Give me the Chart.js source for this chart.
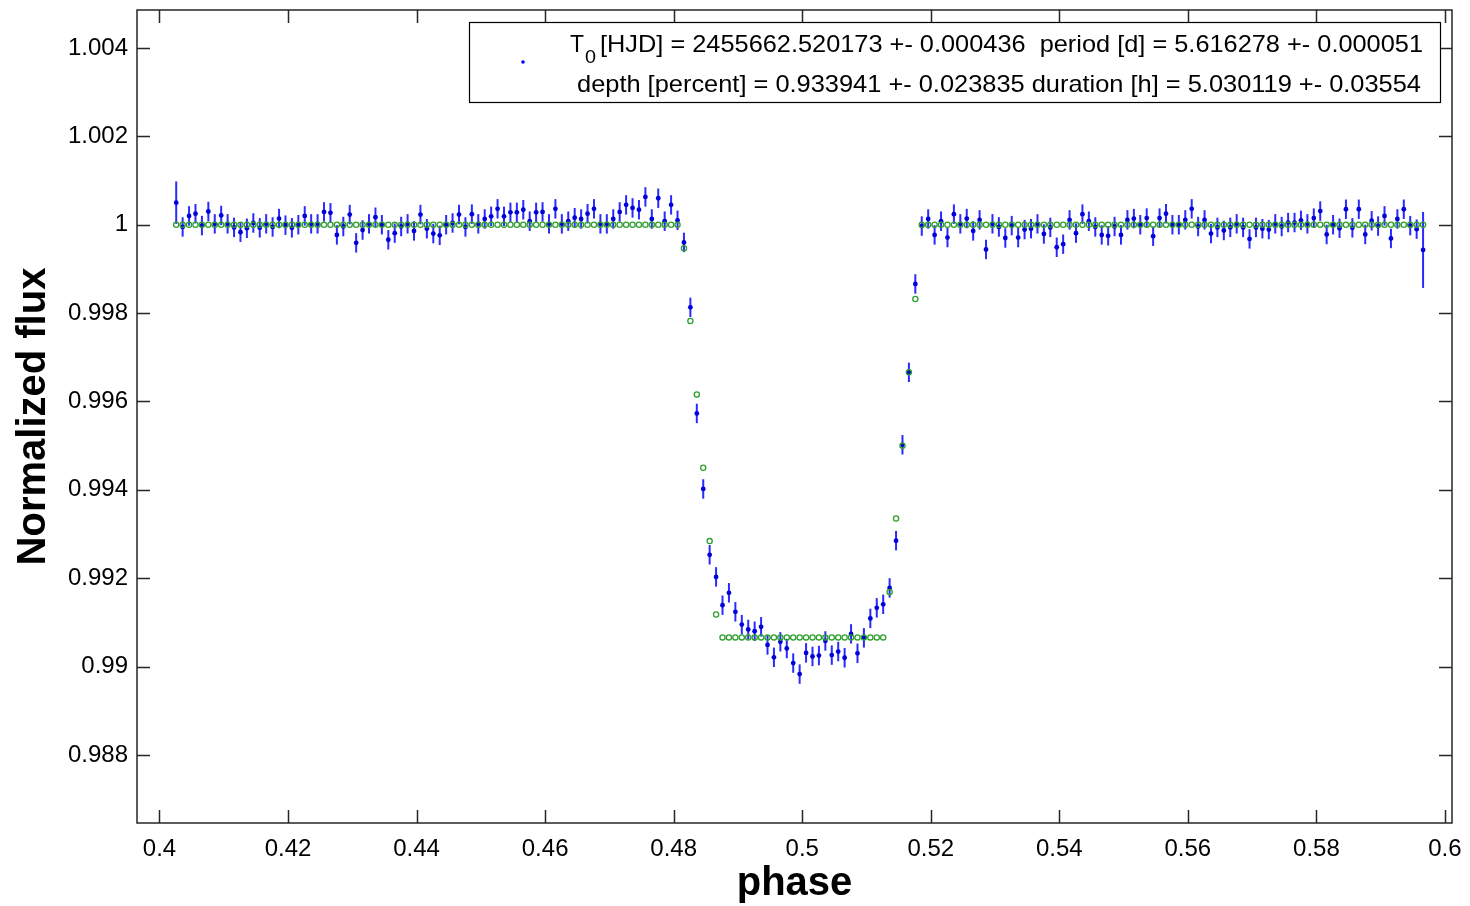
<!DOCTYPE html>
<html>
<head>
<meta charset="utf-8">
<script src="https://cdn.jsdelivr.net/npm/chart.js@4/dist/chart.umd.min.js"></script>
<style>
  html, body { margin: 0; padding: 0; background: #fff; }
  #wrap { width: 1470px; height: 906px; }
</style>
</head>
<body>
<div id="wrap"><canvas id="lc"></canvas></div>
<script>
// binned phase centres
const phase = [
  0.4026, 0.4036, 0.4046, 0.4056, 0.4066, 0.4076, 0.4086, 0.4096, 0.4106, 0.4116,
  0.4126, 0.4136, 0.4146, 0.4156, 0.4166, 0.4176, 0.4186, 0.4196, 0.4206, 0.4216,
  0.4226, 0.4236, 0.4246, 0.4256, 0.4266, 0.4276, 0.4286, 0.4296, 0.4306, 0.4316,
  0.4326, 0.4336, 0.4346, 0.4356, 0.4366, 0.4376, 0.4386, 0.4396, 0.4406, 0.4416,
  0.4426, 0.4436, 0.4446, 0.4456, 0.4466, 0.4476, 0.4486, 0.4496, 0.4506, 0.4516,
  0.4526, 0.4536, 0.4546, 0.4556, 0.4566, 0.4576, 0.4586, 0.4596, 0.4606, 0.4616,
  0.4626, 0.4636, 0.4646, 0.4656, 0.4666, 0.4676, 0.4686, 0.4696, 0.4706, 0.4716,
  0.4726, 0.4736, 0.4746, 0.4756, 0.4766, 0.4776, 0.4786, 0.4796, 0.4806, 0.4816,
  0.4826, 0.4836, 0.4846, 0.4856, 0.4866, 0.4876, 0.4886, 0.4896, 0.4906, 0.4916,
  0.4926, 0.4936, 0.4946, 0.4956, 0.4966, 0.4976, 0.4986, 0.4996, 0.5006, 0.5016,
  0.5026, 0.5036, 0.5046, 0.5056, 0.5066, 0.5076, 0.5086, 0.5096, 0.5106, 0.5116,
  0.5126, 0.5136, 0.5146, 0.5156, 0.5166, 0.5176, 0.5186, 0.5196, 0.5206, 0.5216,
  0.5226, 0.5236, 0.5246, 0.5256, 0.5266, 0.5276, 0.5286, 0.5296, 0.5306, 0.5316,
  0.5326, 0.5336, 0.5346, 0.5356, 0.5366, 0.5376, 0.5386, 0.5396, 0.5406, 0.5416,
  0.5426, 0.5436, 0.5446, 0.5456, 0.5466, 0.5476, 0.5486, 0.5496, 0.5506, 0.5516,
  0.5526, 0.5536, 0.5546, 0.5556, 0.5566, 0.5576, 0.5586, 0.5596, 0.5606, 0.5616,
  0.5626, 0.5636, 0.5646, 0.5656, 0.5666, 0.5676, 0.5686, 0.5696, 0.5706, 0.5716,
  0.5726, 0.5736, 0.5746, 0.5756, 0.5766, 0.5776, 0.5786, 0.5796, 0.5806, 0.5816,
  0.5826, 0.5836, 0.5846, 0.5856, 0.5866, 0.5876, 0.5886, 0.5896, 0.5906, 0.5916,
  0.5926, 0.5936, 0.5946, 0.5956, 0.5966
];

// binned normalized flux (blue points)
const flux = [
  1.00050, 0.99995, 1.00020, 1.00025, 0.99998, 1.00030, 1.00002, 1.00021, 1.00002, 0.99994,
  0.99983, 0.99992, 1.00004, 0.99993, 1.00002, 0.99995, 1.00014, 0.99999, 0.99993, 1.00000,
  1.00020, 1.00002, 1.00002, 1.00029, 1.00027, 0.99977, 0.99996, 1.00023, 0.99959, 0.99988,
  1.00002, 1.00017, 1.00000, 0.99966, 0.99981, 0.99996, 1.00002, 0.99986, 1.00023, 0.99991,
  0.99980, 0.99976, 1.00000, 1.00004, 1.00023, 0.99995, 1.00024, 1.00002, 1.00013, 1.00019,
  1.00036, 1.00019, 1.00028, 1.00028, 1.00034, 1.00008, 1.00028, 1.00029, 1.00002, 1.00036,
  1.00002, 1.00008, 1.00016, 1.00013, 1.00025, 1.00036, 1.00002, 1.00002, 1.00013, 1.00029,
  1.00045, 1.00038, 1.00034, 1.00063, 1.00013, 1.00060, 1.00008, 1.00045, 1.00010, 0.99960,
  0.99813, 0.99573, 0.99402, 0.99253, 0.99203, 0.99139, 0.99167, 0.99124, 0.99095, 0.99084,
  0.99080, 0.99090, 0.99049, 0.99021, 0.99056, 0.99041, 0.99008, 0.98983, 0.99031, 0.99023,
  0.99025, 0.99058, 0.99026, 0.99034, 0.99020, 0.99074, 0.99030, 0.99065, 0.99109, 0.99133,
  0.99141, 0.99178, 0.99285, 0.99502, 0.99666, 0.99866, 0.99997, 1.00013, 0.99977, 1.00008,
  0.99971, 1.00024, 1.00002, 1.00014, 0.99986, 1.00011, 0.99944, 1.00002, 0.99995, 0.99970,
  0.99998, 0.99971, 0.99989, 0.99991, 1.00002, 0.99979, 0.99994, 0.99949, 0.99956, 1.00011,
  0.99981, 1.00024, 1.00008, 0.99995, 0.99977, 0.99975, 0.99996, 0.99977, 1.00011, 1.00014,
  1.00000, 1.00015, 0.99974, 1.00015, 1.00025, 1.00000, 1.00000, 1.00011, 1.00036, 0.99996,
  1.00011, 0.99980, 0.99994, 0.99987, 0.99994, 1.00002, 0.99994, 0.99968, 0.99994, 0.99991,
  0.99989, 1.00002, 0.99996, 1.00005, 1.00005, 1.00010, 1.00002, 1.00015, 1.00031, 0.99978,
  1.00000, 0.99992, 1.00035, 0.99993, 1.00035, 0.99978, 1.00009, 0.99997, 1.00020, 0.99969,
  1.00013, 1.00035, 0.99998, 0.99990, 0.99943
];

// 1-sigma error of each bin
const fluxErr = [
  0.00048, 0.00022, 0.00022, 0.00022, 0.00022, 0.00022, 0.00022, 0.00022, 0.00022, 0.00022,
  0.00022, 0.00022, 0.00022, 0.00022, 0.00022, 0.00022, 0.00022, 0.00022, 0.00022, 0.00022,
  0.00022, 0.00022, 0.00022, 0.00022, 0.00022, 0.00022, 0.00022, 0.00022, 0.00022, 0.00022,
  0.00022, 0.00022, 0.00022, 0.00022, 0.00022, 0.00022, 0.00022, 0.00022, 0.00022, 0.00022,
  0.00022, 0.00022, 0.00022, 0.00022, 0.00022, 0.00022, 0.00022, 0.00022, 0.00022, 0.00022,
  0.00022, 0.00022, 0.00022, 0.00022, 0.00022, 0.00022, 0.00022, 0.00022, 0.00022, 0.00022,
  0.00022, 0.00022, 0.00022, 0.00022, 0.00022, 0.00022, 0.00022, 0.00022, 0.00022, 0.00022,
  0.00022, 0.00022, 0.00022, 0.00022, 0.00022, 0.00022, 0.00022, 0.00022, 0.00022, 0.00022,
  0.00022, 0.00022, 0.00022, 0.00022, 0.00022, 0.00022, 0.00022, 0.00022, 0.00022, 0.00022,
  0.00022, 0.00022, 0.00022, 0.00022, 0.00022, 0.00022, 0.00022, 0.00022, 0.00022, 0.00022,
  0.00022, 0.00022, 0.00022, 0.00022, 0.00022, 0.00022, 0.00022, 0.00022, 0.00022, 0.00022,
  0.00022, 0.00022, 0.00022, 0.00022, 0.00022, 0.00022, 0.00022, 0.00022, 0.00022, 0.00022,
  0.00022, 0.00022, 0.00022, 0.00022, 0.00022, 0.00022, 0.00022, 0.00022, 0.00022, 0.00022,
  0.00022, 0.00022, 0.00022, 0.00022, 0.00022, 0.00022, 0.00022, 0.00022, 0.00022, 0.00022,
  0.00022, 0.00022, 0.00022, 0.00022, 0.00022, 0.00022, 0.00022, 0.00022, 0.00022, 0.00022,
  0.00022, 0.00022, 0.00022, 0.00022, 0.00022, 0.00022, 0.00022, 0.00022, 0.00022, 0.00022,
  0.00022, 0.00022, 0.00022, 0.00022, 0.00022, 0.00022, 0.00022, 0.00022, 0.00022, 0.00022,
  0.00022, 0.00022, 0.00022, 0.00022, 0.00022, 0.00022, 0.00022, 0.00022, 0.00022, 0.00022,
  0.00022, 0.00022, 0.00022, 0.00022, 0.00022, 0.00022, 0.00022, 0.00022, 0.00022, 0.00022,
  0.00022, 0.00022, 0.00022, 0.00022, 0.00086
];

// transit model (green circles)
const model = [
  1, 1, 1, 1, 1, 1, 1, 1, 1, 1,
  1, 1, 1, 1, 1, 1, 1, 1, 1, 1,
  1, 1, 1, 1, 1, 1, 1, 1, 1, 1,
  1, 1, 1, 1, 1, 1, 1, 1, 1, 1,
  1, 1, 1, 1, 1, 1, 1, 1, 1, 1,
  1, 1, 1, 1, 1, 1, 1, 1, 1, 1,
  1, 1, 1, 1, 1, 1, 1, 1, 1, 1,
  1, 1, 1, 1, 1, 1, 1, 1, 1, 0.99947,
  0.99782, 0.99616, 0.99450, 0.99284, 0.99118, 0.99066, 0.99066, 0.99066, 0.99066, 0.99066,
  0.99066, 0.99066, 0.99066, 0.99066, 0.99066, 0.99066, 0.99066, 0.99066, 0.99066, 0.99066,
  0.99066, 0.99066, 0.99066, 0.99066, 0.99066, 0.99066, 0.99066, 0.99066, 0.99066, 0.99066,
  0.99066, 0.99169, 0.99335, 0.99500, 0.99666, 0.99832, 1, 1, 1, 1,
  1, 1, 1, 1, 1, 1, 1, 1, 1, 1,
  1, 1, 1, 1, 1, 1, 1, 1, 1, 1,
  1, 1, 1, 1, 1, 1, 1, 1, 1, 1,
  1, 1, 1, 1, 1, 1, 1, 1, 1, 1,
  1, 1, 1, 1, 1, 1, 1, 1, 1, 1,
  1, 1, 1, 1, 1, 1, 1, 1, 1, 1,
  1, 1, 1, 1, 1, 1, 1, 1, 1, 1,
  1, 1, 1, 1, 1
];

const legendLine1 = ['T', '0', '[HJD] = 2455662.520173 +- 0.000436  period [d] = 5.616278 +- 0.000051'];
const legendLine2 = 'depth [percent] = 0.933941 +- 0.023835 duration [h] = 5.030119 +- 0.03554';

const FONT = '"Liberation Sans", Arial, Helvetica, sans-serif';
const TICK_LEN = 13;

Chart.defaults.color = '#000';
Chart.defaults.font.family = FONT;

function fitText(ctx, text, x0, x1, y) {
  const w = ctx.measureText(text).width;
  ctx.save();
  ctx.translate(x0, y);
  ctx.scale((x1 - x0) / w, 1);
  ctx.fillText(text, 0, 0);
  ctx.restore();
}

const framePlugin = {
  id: 'frame',
  beforeDatasetsDraw(chart) {
    // error bars under the markers
    const { ctx, chartArea, scales } = chart;
    ctx.save();
    ctx.beginPath();
    ctx.rect(chartArea.left, chartArea.top, chartArea.right - chartArea.left, chartArea.bottom - chartArea.top);
    ctx.clip();
    ctx.strokeStyle = '#2a2aff';
    ctx.lineWidth = 2;
    phase.forEach((p, i) => {
      const x = scales.x.getPixelForValue(p);
      const y0 = scales.y.getPixelForValue(flux[i] - fluxErr[i]);
      const y1 = scales.y.getPixelForValue(flux[i] + fluxErr[i]);
      ctx.beginPath();
      ctx.moveTo(x, y0);
      ctx.lineTo(x, y1);
      ctx.stroke();
    });
    ctx.restore();
  },
  afterDraw(chart) {
    const { ctx, chartArea: a, scales } = chart;
    ctx.save();
    ctx.strokeStyle = '#262626';
    ctx.lineWidth = 1.5;
    ctx.strokeRect(a.left, a.top, a.right - a.left, a.bottom - a.top);

    ctx.beginPath();
    scales.x.ticks.forEach((t) => {
      const x = Math.round(scales.x.getPixelForValue(t.value)) + 0.5;
      ctx.moveTo(x, a.bottom); ctx.lineTo(x, a.bottom - TICK_LEN);
      ctx.moveTo(x, a.top); ctx.lineTo(x, a.top + TICK_LEN);
    });
    scales.y.ticks.forEach((t) => {
      const y = Math.round(scales.y.getPixelForValue(t.value)) + 0.5;
      ctx.moveTo(a.left, y); ctx.lineTo(a.left + TICK_LEN, y);
      ctx.moveTo(a.right, y); ctx.lineTo(a.right - TICK_LEN, y);
    });
    ctx.stroke();

    // legend box
    const bx = 469, by = 22, bw = 971, bh = 80;
    ctx.fillStyle = '#fff';
    ctx.fillRect(bx, by, bw, bh);
    ctx.lineWidth = 1.2;
    ctx.strokeStyle = '#000';
    ctx.strokeRect(bx + 0.5, by + 0.5, bw, bh);

    ctx.fillStyle = '#0000ff';
    ctx.beginPath();
    ctx.arc(523, 62, 1.8, 0, Math.PI * 2);
    ctx.fill();

    ctx.fillStyle = '#000';
    ctx.textBaseline = 'alphabetic';
    ctx.font = '24px ' + FONT;
    fitText(ctx, legendLine1[0], 570, 584, 52);
    ctx.font = '18px ' + FONT;
    fitText(ctx, legendLine1[1], 585, 596, 63);
    ctx.font = '24px ' + FONT;
    fitText(ctx, legendLine1[2], 600, 1423, 52);
    fitText(ctx, legendLine2, 577, 1421, 92);
    ctx.restore();
  }
};

const ctx = document.getElementById('lc');

new Chart(ctx, {
  type: 'scatter',
  data: {
    datasets: [
      {
        label: 'model',
        data: phase.map((p, i) => ({ x: p, y: model[i] })),
        pointStyle: 'circle',
        pointRadius: 2.6,
        pointBorderWidth: 1.3,
        pointBackgroundColor: 'rgba(0,0,0,0)',
        pointBorderColor: '#2f9f2f',
        showLine: false,
        order: 0,
      },
      {
        label: 'data',
        data: phase.map((p, i) => ({ x: p, y: flux[i] })),
        pointStyle: 'circle',
        pointRadius: 2.4,
        pointBorderWidth: 0,
        pointBackgroundColor: '#0000d8',
        showLine: false,
        order: 1,
      },
    ],
  },
  options: {
    responsive: true,
    maintainAspectRatio: false,
    animation: false,
    events: [],
    layout: { padding: { top: 10, right: 18, left: 0, bottom: 0 } },
    plugins: {
      legend: { display: false },
      tooltip: { enabled: false },
    },
    scales: {
      x: {
        type: 'linear',
        min: 0.3965,
        max: 0.6011,
        afterFit: (scale) => {
          scale.height = 83;
          scale.paddingLeft = 0;
          scale.paddingRight = 0;
        },
        grid: { display: false, drawTicks: false },
        border: { display: false },
        ticks: {
          stepSize: 0.02,
          includeBounds: false,
          padding: 12,
          maxRotation: 0,
          autoSkip: false,
          font: { size: 24 },
          callback: (v) => String(+v.toFixed(4)),
        },
        title: {
          display: true,
          text: 'phase',
          font: { size: 40, weight: 'bold' },
          padding: { top: 0, bottom: -2 },
        },
      },
      y: {
        type: 'linear',
        min: 0.98646,
        max: 1.00486,
        afterFit: (scale) => {
          scale.width = 137;
          scale.paddingTop = 0;
          scale.paddingBottom = 0;
        },
        grid: { display: false, drawTicks: false },
        border: { display: false },
        ticks: {
          stepSize: 0.002,
          includeBounds: false,
          padding: 9,
          autoSkip: false,
          font: { size: 24 },
          callback: (v) => String(+v.toFixed(6)),
        },
        title: {
          display: true,
          text: 'Normalized flux',
          font: { size: 40, weight: 'bold' },
          padding: { top: 10, bottom: 0 },
        },
      },
    },
  },
  plugins: [framePlugin],
});
</script>
</body>
</html>
